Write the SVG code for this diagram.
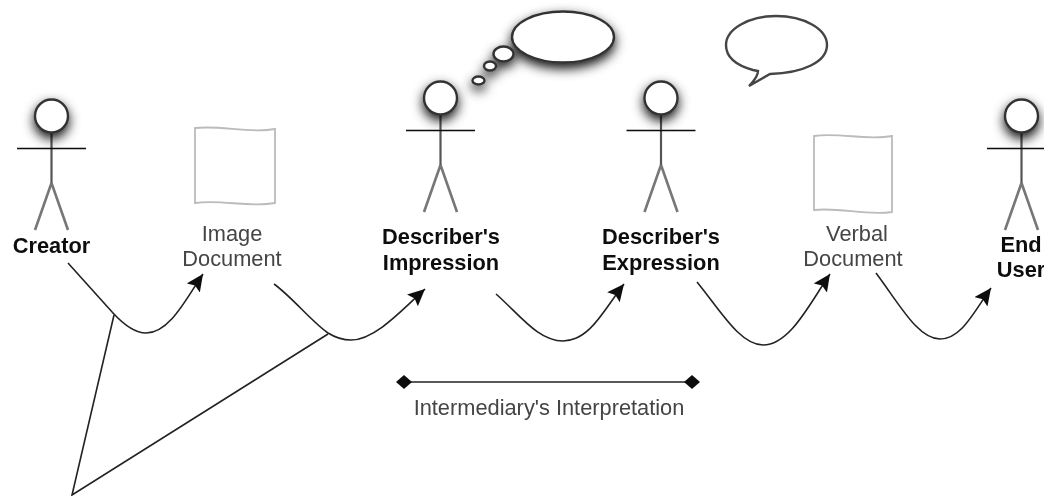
<svg xmlns="http://www.w3.org/2000/svg" width="1044" height="496" viewBox="0 0 1044 496">
<style>
text{font-family:"Liberation Sans",Arial,sans-serif;text-anchor:middle;font-size:21.800px}
.b{font-weight:bold;fill:#111}
.n{fill:#444}
.head{fill:#fff;stroke:#333;stroke-width:2.400;filter:url(#sh)}
.arm{stroke:#111;stroke-width:1.300;fill:none}
.body{stroke:#555;stroke-width:2.200;fill:none}
.leg{stroke:#777;stroke-width:2.600;fill:none}
.doc{fill:#fff;stroke:#bbb;stroke-width:1.800}
.c{fill:none;stroke:#222;stroke-width:1.600}
</style>
<defs>
<filter id="sh" x="-80%" y="-80%" width="260%" height="280%"><feDropShadow dx="0" dy="5" stdDeviation="6" flood-color="#000" flood-opacity=".95"/></filter>
<filter id="soft" x="-5%" y="-5%" width="110%" height="110%"><feGaussianBlur stdDeviation=".5"/></filter>
<marker id="arr" markerUnits="userSpaceOnUse" markerWidth="20" markerHeight="18" refX="17" refY="8" orient="auto"><path d="M0 0L17 8L0 16L3 8Z" fill="#111"/></marker>
<marker id="dia" markerUnits="userSpaceOnUse" markerWidth="16" markerHeight="14" refX="8" refY="7" orient="auto"><path d="M0 7L8 0L16 7L8 14Z" fill="#111"/></marker>
<g id="actor"><path class="body" d="M0 16V67"/><path class="leg" d="M0 67L-16.500 114M0 67L16.500 114"/><path class="arm" d="M-34.500 32.500H34.500"/><circle class="head" cx="0" cy="0" r="16.500"/></g>
</defs>
<rect width="1044" height="496" fill="#fff"/>
<g filter="url(#soft)">
<g id="connectors">
<path class="c" marker-end="url(#arr)" d="M68 263L113 313C125 326 135 333 146 333C170 333 187 297 203 274"/>
<path class="c" marker-end="url(#arr)" d="M274 284C292 297 312 322 328 333C336 338 343 340 351 340C375 340 402 310 425 289"/>
<path class="c" marker-end="url(#arr)" d="M496 294C520 315 538 341 563 341C590 341 605 308 624 284"/>
<path class="c" marker-end="url(#arr)" d="M697 282C720 310 740 345 763 345C790 345 810 303 830 274"/>
<path class="c" marker-end="url(#arr)" d="M876 273C900 305 918 339 940 339C962 339 975 310 991 288"/>
<path class="c" d="M114 315L72 495L328 334"/>
<path class="c" marker-start="url(#dia)" marker-end="url(#dia)" d="M404 382H692"/>
</g>
<g id="creator"><use href="#actor" x="51.500" y="116"/><text class="b" x="51.500" y="253">Creator</text></g>
<g id="image-document"><path class="doc" d="M195 128C222 125 248 134 275 129V203C248 208 222 199 195 203Z"/><text class="n" x="232" y="241">Image</text><text class="n" x="232" y="266">Document</text></g>
<g id="impression"><use href="#actor" x="440.500" y="98"/><text class="b" x="441" y="244">Describer's</text><text class="b" x="441" y="270">Impression</text></g>
<g id="expression"><use href="#actor" x="661" y="98"/><text class="b" x="661" y="244">Describer's</text><text class="b" x="661" y="270">Expression</text></g>
<g id="verbal-document"><path class="doc" d="M814 136C840 132 866 141 892 136V212C866 216 840 207 814 210Z"/><text class="n" x="857" y="241">Verbal</text><text class="n" x="853" y="266">Document</text></g>
<g id="end-user"><use href="#actor" x="1021.500" y="116"/><text class="b" x="1021" y="252">End</text><text class="b" x="1021" y="277">User</text></g>
<g id="thought" class="head">
<ellipse cx="563" cy="37" rx="51" ry="25.500"/><ellipse cx="503.500" cy="54" rx="10" ry="7.500"/><ellipse cx="490" cy="66" rx="6" ry="4.500"/><ellipse cx="478.500" cy="80.500" rx="6" ry="4"/>
</g>
<g id="speech"><path d="M753 70C735 65 726 56 726 45C726 29 749 16 776 16C804 16 827 29 827 45C827 62 803 73 770 74L749 86C754 81 758 76 758 71Z" fill="#fff" stroke="#444" stroke-width="2.400"/></g>
<g id="interpretation"><text class="n" x="549" y="415">Intermediary's Interpretation</text></g>
</g>
</svg>
